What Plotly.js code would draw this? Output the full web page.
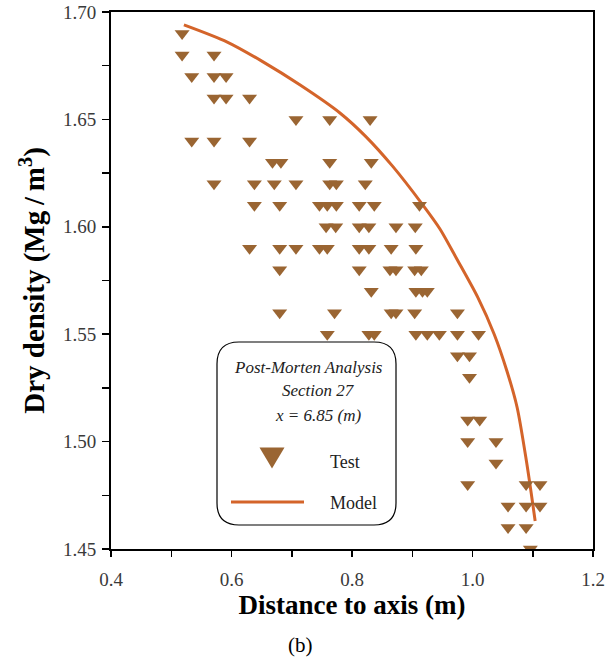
<!DOCTYPE html>
<html>
<head>
<meta charset="utf-8">
<script src="https://cdn.plot.ly/plotly-3.0.1.min.js"></script>
<style>
html, body { margin: 0; padding: 0; background: #ffffff; }
#chart { width: 608px; height: 662px; }
</style>
</head>
<body>
<div id="chart"></div>
<script>
// Test measurements: distance to axis (m) and dry density (Mg/m3)
const testX = [
  0.518,
  0.518, 0.571,
  0.534, 0.571, 0.591,
  0.571, 0.591, 0.630,
  0.707, 0.763, 0.830,
  0.534, 0.571, 0.630,
  0.668, 0.682, 0.763, 0.832,
  0.571, 0.638, 0.671, 0.707, 0.763, 0.774, 0.822,
  0.638, 0.680, 0.746, 0.759, 0.774, 0.812, 0.837, 0.912,
  0.757, 0.773, 0.812, 0.828, 0.873, 0.905,
  0.630, 0.680, 0.707, 0.746, 0.759, 0.812, 0.828, 0.865, 0.906,
  0.680, 0.812, 0.863, 0.873, 0.904, 0.915,
  0.832, 0.906, 0.917, 0.925,
  0.680, 0.771, 0.865, 0.873, 0.904, 0.975,
  0.759, 0.828, 0.837, 0.906, 0.925, 0.945, 0.975, 1.010,
  0.975, 0.995,
  0.995,
  0.992, 1.012,
  0.992, 1.039,
  1.039,
  0.992, 1.089, 1.112,
  1.059, 1.089, 1.112,
  1.059, 1.089,
  1.096
];
const testY = [
  1.69,
  1.68, 1.68,
  1.67, 1.67, 1.67,
  1.66, 1.66, 1.66,
  1.65, 1.65, 1.65,
  1.64, 1.64, 1.64,
  1.63, 1.63, 1.63, 1.63,
  1.62, 1.62, 1.62, 1.62, 1.62, 1.62, 1.62,
  1.61, 1.61, 1.61, 1.61, 1.61, 1.61, 1.61, 1.61,
  1.60, 1.60, 1.60, 1.60, 1.60, 1.60,
  1.59, 1.59, 1.59, 1.59, 1.59, 1.59, 1.59, 1.59, 1.59,
  1.58, 1.58, 1.58, 1.58, 1.58, 1.58,
  1.57, 1.57, 1.57, 1.57,
  1.56, 1.56, 1.56, 1.56, 1.56, 1.56,
  1.55, 1.55, 1.55, 1.55, 1.55, 1.55, 1.55, 1.55,
  1.54, 1.54,
  1.53,
  1.51, 1.51,
  1.50, 1.50,
  1.49,
  1.48, 1.48, 1.48,
  1.47, 1.47, 1.47,
  1.46, 1.46,
  1.45
];
// Model curve
const modelX = [0.521, 0.593, 0.651, 0.714, 0.780, 0.823, 0.868, 0.918, 0.946, 0.974, 1.009, 1.036, 1.057, 1.074, 1.090, 1.100, 1.104];
const modelY = [1.694, 1.686, 1.677, 1.666, 1.653, 1.642, 1.628, 1.610, 1.599, 1.585, 1.567, 1.550, 1.533, 1.516, 1.490, 1.471, 1.463];

const xTickVals = [0.4, 0.6, 0.8, 1.0, 1.2];
const yTickVals = [1.45, 1.50, 1.55, 1.60, 1.65, 1.70];

const legendTitleLines = ["Post-Morten Analysis", "Section 27", "x = 6.85 (m)"];
const seriesNames = ["Test", "Model"];

const markerColor = "#9a6532";
const lineColor = "#d4642a";
const serif = "Liberation Serif, Times New Roman, serif";

// helper: pixel -> paper conversions for decorations
const L = 111, R = 15, T = 12, B = 113, W = 608, H = 662;
const pw = W - L - R, ph = H - T - B;
const px = v => (v - L) / pw;
const py = v => (H - B - v) / ph;

function roundRect(x0, y0, x1, y1, r) {
  const rx = r / pw, ry = r / ph;
  const a = px(x0), b = px(x1), top = py(y0), bot = py(y1);
  return `M ${a + rx},${top} L ${b - rx},${top} Q ${b},${top} ${b},${top - ry} ` +
         `L ${b},${bot + ry} Q ${b},${bot} ${b - rx},${bot} ` +
         `L ${a + rx},${bot} Q ${a},${bot} ${a},${bot + ry} ` +
         `L ${a},${top - ry} Q ${a},${top} ${a + rx},${top} Z`;
}
function triPath(cx, cy, w, h) {
  return `M ${px(cx - w / 2)},${py(cy - h / 2)} L ${px(cx + w / 2)},${py(cy - h / 2)} L ${px(cx)},${py(cy + h / 2)} Z`;
}

const traces = [
  {
    x: modelX, y: modelY, type: "scatter", mode: "lines", name: seriesNames[1],
    line: { color: lineColor, width: 3, shape: "spline", smoothing: 0.8 },
    hoverinfo: "skip"
  },
  {
    x: testX, y: testY, type: "scatter", mode: "markers", name: seriesNames[0],
    marker: { symbol: "triangle-down", size: 13, color: markerColor, line: { width: 0 } }
  }
];

const layout = {
  width: W, height: H,
  margin: { l: L, r: R, t: T, b: B },
  paper_bgcolor: "#ffffff", plot_bgcolor: "#ffffff",
  showlegend: false,
  font: { family: serif, color: "#000000" },
  xaxis: {
    range: [0.4, 1.2], tickvals: xTickVals, ticktext: xTickVals.map(v => v.toFixed(1)),
    ticks: "outside", ticklen: 6, tickwidth: 1.5, tickcolor: "#000",
    minor: { dtick: 0.1, tick0: 0.4, ticks: "outside", ticklen: 6, tickwidth: 1.5, tickcolor: "#000" },
    showline: true, linecolor: "#000", linewidth: 2, mirror: true,
    showgrid: false, zeroline: false,
    ticklabelstandoff: 6,
    tickfont: { family: serif, size: 19, color: "#3a3a3a" },
    title: { text: "<b>Distance to axis (m)</b>", font: { family: serif, size: 27, color: "#000" }, standoff: 6 }
  },
  yaxis: {
    range: [1.45, 1.70], tickvals: yTickVals, ticktext: yTickVals.map(v => v.toFixed(2)),
    ticks: "outside", ticklen: 7, tickwidth: 1.5, tickcolor: "#000",
    minor: { dtick: 0.025, tick0: 1.45, ticks: "outside", ticklen: 7, tickwidth: 1.5, tickcolor: "#000" },
    showline: true, linecolor: "#000", linewidth: 2, mirror: true,
    showgrid: false, zeroline: false,
    ticklabelstandoff: 2,
    tickfont: { family: serif, size: 19, color: "#3a3a3a" },
    title: { text: "<b>Dry density (Mg\u2009/\u2009m<sup>3</sup>)</b>", font: { family: serif, size: 29, color: "#000" }, standoff: 10 }
  },
  shapes: [
    { type: "path", xref: "paper", yref: "paper", path: roundRect(217, 342, 396, 525, 22),
      line: { color: "#000", width: 1.2 }, fillcolor: "rgba(0,0,0,0)" },
    { type: "path", xref: "paper", yref: "paper", path: triPath(272, 458, 25, 21),
      line: { width: 0 }, fillcolor: markerColor },
    { type: "line", xref: "paper", yref: "paper", x0: px(231), x1: px(304), y0: py(502), y1: py(502),
      line: { color: lineColor, width: 3 } }
  ],
  annotations: [
    { xref: "paper", yref: "paper", x: px(308), y: py(367), text: "<i>" + legendTitleLines[0] + "</i>",
      showarrow: false, font: { family: serif, size: 17, color: "#222" }, xanchor: "center", yanchor: "middle" },
    { xref: "paper", yref: "paper", x: px(318), y: py(390), text: "<i>" + legendTitleLines[1] + "</i>",
      showarrow: false, font: { family: serif, size: 17, color: "#222" }, xanchor: "center", yanchor: "middle" },
    { xref: "paper", yref: "paper", x: px(318), y: py(415), text: "<i>" + legendTitleLines[2] + "</i>",
      showarrow: false, font: { family: serif, size: 17, color: "#222" }, xanchor: "center", yanchor: "middle" },
    { xref: "paper", yref: "paper", x: px(328), y: py(462), text: seriesNames[0],
      showarrow: false, font: { family: serif, size: 18, color: "#222" }, xanchor: "left", yanchor: "middle" },
    { xref: "paper", yref: "paper", x: px(328), y: py(503), text: seriesNames[1],
      showarrow: false, font: { family: serif, size: 18, color: "#222" }, xanchor: "left", yanchor: "middle" },
    { xref: "paper", yref: "paper", x: px(300), y: py(645), text: "(b)",
      showarrow: false, font: { family: serif, size: 21, color: "#000" }, xanchor: "center", yanchor: "middle" }
  ]
};

Plotly.newPlot("chart", traces, layout, { displayModeBar: false, staticPlot: true });
</script>
</body>
</html>
